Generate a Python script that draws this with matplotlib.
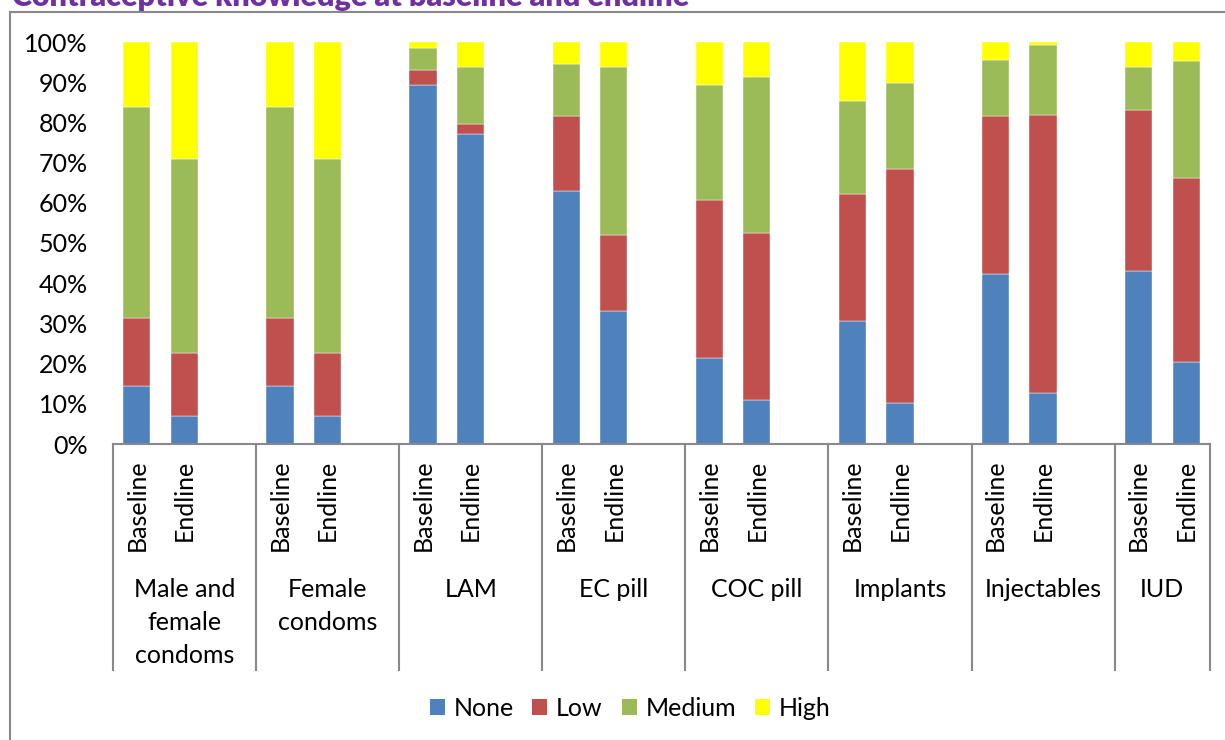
import numpy as np
import matplotlib
matplotlib.use("Agg")
import matplotlib.pyplot as plt
from matplotlib.patches import Patch, Rectangle
from matplotlib.transforms import blended_transform_factory

plt.rcParams['font.family'] = ['Lato', 'DejaVu Sans']

methods = ["Male and\nfemale\ncondoms", "Female\ncondoms", "LAM", "EC pill",
           "COC pill", "Implants", "Injectables", "IUD"]
rounds = ["Baseline", "Endline"]
levels = ["None", "Low", "Medium", "High"]

# percent of respondents per knowledge level, baseline/endline pairs per method
none_pct = [14.5, 7.0, 14.5, 7.0, 89.3, 77.1, 63.0, 33.0,
            21.4, 10.9, 30.7, 10.1, 42.4, 12.6, 43.0, 20.5]
low_pct = [16.9, 15.6, 16.9, 15.6, 3.8, 2.4, 18.5, 18.9,
           39.3, 41.7, 31.6, 58.4, 39.3, 69.3, 40.1, 45.7]
medium_pct = [52.4, 48.3, 52.4, 48.3, 5.5, 14.2, 13.1, 41.8,
              28.6, 38.7, 23.1, 21.4, 13.8, 17.4, 10.8, 29.1]
high_pct = [16.2, 29.1, 16.2, 29.1, 1.4, 6.3, 5.4, 6.3,
            10.7, 8.7, 14.6, 10.1, 4.5, 0.7, 6.1, 4.7]

colors = ["#4F81BD", "#C0504D", "#9BBB59", "#FFFF00"]
axis_grey = "#898989"
fs = 18

W, H = 1225, 740
fig = plt.figure(figsize=(W / 100, H / 100), dpi=100)
ax = fig.add_axes([113 / W, 1 - 444 / H, (1210 - 113) / W, (444 - 42) / H])

# three slots per method (baseline, endline, spacer); last method has no spacer
n = len(methods)
xpos = []
for g in range(n):
    xpos += [3 * g, 3 * g + 1]
xpos = np.array(xpos, dtype=float)

bottom = np.zeros(len(xpos))
for vals, col, lab in zip([none_pct, low_pct, medium_pct, high_pct], colors, levels):
    vals = np.array(vals)
    ax.bar(xpos, vals, bottom=bottom, width=0.57, color=col, label=lab,
           edgecolor="white", linewidth=0.3)
    bottom += vals

ax.set_xlim(-0.5, 3 * n - 1.5)
ax.set_ylim(0, 100)
ax.set_yticks(np.arange(0, 101, 10))
ax.set_yticklabels([f"{v}%" for v in range(0, 101, 10)], fontsize=fs)
ax.tick_params(axis="y", length=0, pad=18)

ax.set_xticks(xpos)
ax.set_xticklabels(rounds * n, rotation=90, fontsize=fs, va="top", ha="center")
ax.tick_params(axis="x", length=0, pad=11)

for s in ["top", "right", "left"]:
    ax.spines[s].set_visible(False)
ax.spines["bottom"].set_color(axis_grey)
ax.spines["bottom"].set_linewidth(1.5)

# group separators and method names below the axis
trans = blended_transform_factory(ax.transData, ax.transAxes)
sep_depth = -(670 - 444) / (444 - 42)
edges = [3 * g - 0.5 for g in range(n)] + [3 * n - 1.5]
for e in edges:
    ax.plot([e, e], [0, sep_depth], color=axis_grey, lw=1.5,
            transform=trans, clip_on=False)
for g, name in enumerate(methods):
    left, right = edges[g], edges[g + 1]
    ax.text((left + right) / 2, -(578 - 444) / (444 - 42), name, transform=trans,
            ha="center", va="top", fontsize=fs, linespacing=1.53, multialignment="center")

handles = [Patch(facecolor=c, label=l) for c, l in zip(colors, levels)]
fig.legend(handles=handles, loc="center", bbox_to_anchor=(630 / W, 1 - 708 / H),
           ncol=4, frameon=False, fontsize=fs, handlelength=0.6, handleheight=0.6,
           handletextpad=0.35, columnspacing=0.75)

# chart frame and title running off the top edge
fig.patches.append(Rectangle((10 / W, -0.05), 1.1, 1.05 - 12 / H, fill=False,
                             edgecolor=axis_grey, lw=1.5, transform=fig.transFigure))
fig.text(12 / W, 1 - 6 / H, "Contraceptive knowledge at baseline and endline",
         color="#7030A0", fontsize=22, fontweight="heavy", va="baseline", ha="left")

fig.savefig("out.png", dpi=100)
